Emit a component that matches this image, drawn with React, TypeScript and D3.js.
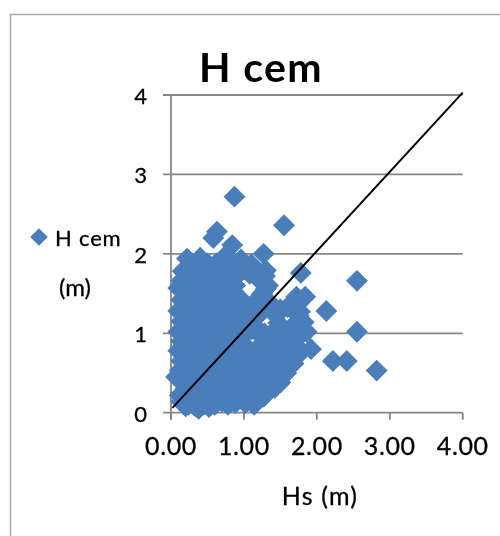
import React, { useEffect, useRef } from "react";
import * as d3 from "d3";

// Hs (m), H cem (m)
const hs = [
  0.87, 1.55, 0.63, 0.58, 0.84, 1.27,
  0.22, 0.4, 0.3, 0.5, 0.96, 1.1,
  0.16, 0.32, 0.48, 0.66, 0.78, 1.02, 1.16, 1.3,
  0.14, 0.26, 0.42, 0.56, 0.7, 0.9, 1.08, 1.24,
  0.1, 0.2, 0.34, 0.5, 0.64, 0.78, 0.88, 1.3, 1.29,
  0.14, 0.27, 0.42, 0.56, 0.7, 0.84, 1.05, 1.2, 1.78,
  0.1, 0.22, 0.36, 0.5, 0.64, 0.78, 0.92, 1.12, 1.25, 1.72, 1.84,
  0.14, 0.28, 0.42, 0.56, 0.7, 0.85, 1.0, 1.17, 1.44, 1.6, 1.77,
  0.1, 0.22, 0.36, 0.5, 0.64, 0.78, 0.92, 1.1, 1.22, 1.42, 1.66, 1.7,
  0.14, 0.28, 0.42, 0.56, 0.7, 0.85, 0.97, 1.2, 1.34, 1.48, 1.62, 1.78,
  0.1, 0.22, 0.36, 0.5, 0.64, 0.78, 0.92, 1.05, 1.22, 1.38, 1.54, 1.7, 1.86,
  0.14, 0.28, 0.42, 0.56, 0.7, 0.84, 0.98, 1.14, 1.3, 1.46, 1.6, 1.76,
  0.12, 0.24, 0.38, 0.52, 0.66, 0.8, 0.94, 1.06, 1.22, 1.38, 1.52, 1.68, 1.92,
  0.14, 0.28, 0.42, 0.56, 0.7, 0.84, 1.12, 1.28, 1.44, 1.58,
  0.07, 0.2, 0.34, 0.48, 0.62, 0.76, 0.9, 1.04, 1.2, 1.36, 1.5,
  0.12, 0.26, 0.4, 0.54, 0.68, 0.82, 0.96, 1.1, 1.26, 1.48,
  0.18, 0.32, 0.46, 0.6, 0.74, 0.88, 1.02, 1.16, 1.34, 1.42,
  0.2, 0.3, 0.38, 0.52, 0.64, 0.78, 1.01, 1.14, 1.27,
  2.55, 2.13, 2.55, 2.22, 2.41, 2.82,
  0.88, 1.2, 1.25, 1.33, 1.0, 1.14, 1.3, 1.05, 1.16, 1.32, 1.45,
  0.95, 1.08, 1.31, 1.47, 1.0, 1.12, 1.28, 1.42, 1.55, 1.06, 1.26,
  1.4, 1.56, 0.98, 1.12, 1.28, 1.44, 1.58, 0.9, 1.02, 1.14, 1.3,
  1.46, 0.98, 1.12, 1.3, 0.96, 1.14, 0.9, 1.04,
  1.36, 0.97, 1.5, 1.68, 1.82, 1.62, 1.72,
  0.14, 0.24, 0.34, 0.44, 0.56, 0.7,
  0.74, 0.62, 1.18, 1.75, 1.74,
];
const hcem = [
  2.72, 2.36, 2.28, 2.2, 2.11, 2.0,
  1.94, 1.95, 1.86, 1.88, 1.93, 1.87,
  1.78, 1.8, 1.79, 1.8, 1.86, 1.8, 1.78, 1.79,
  1.66, 1.68, 1.67, 1.66, 1.68, 1.72, 1.75, 1.7,
  1.57, 1.55, 1.54, 1.55, 1.53, 1.56, 1.6, 1.56, 1.72,
  1.42, 1.42, 1.41, 1.42, 1.41, 1.46, 1.34, 1.42, 1.76,
  1.28, 1.29, 1.3, 1.28, 1.3, 1.3, 1.32, 1.29, 1.32, 1.46, 1.46,
  1.15, 1.16, 1.15, 1.17, 1.16, 1.18, 1.2, 1.2, 1.22, 1.33, 1.27,
  1.02, 1.03, 1.04, 1.03, 1.02, 1.05, 1.07, 1.05, 1.02, 1.03, 0.99, 1.12,
  0.9, 0.91, 0.9, 0.92, 0.9, 0.93, 0.88, 1.0, 0.96, 0.94, 0.96, 0.98,
  0.78, 0.79, 0.78, 0.78, 0.8, 0.79, 0.76, 0.78, 0.82, 0.82, 0.82, 0.86, 1.02,
  0.65, 0.66, 0.66, 0.65, 0.66, 0.66, 0.62, 0.68, 0.7, 0.68, 0.7, 0.74,
  0.53, 0.54, 0.53, 0.53, 0.54, 0.54, 0.5, 0.56, 0.56, 0.56, 0.58, 0.62, 0.8,
  0.41, 0.41, 0.41, 0.42, 0.41, 0.42, 0.44, 0.44, 0.44, 0.5,
  0.45, 0.3, 0.3, 0.29, 0.3, 0.3, 0.32, 0.3, 0.34, 0.34, 0.38,
  0.22, 0.18, 0.18, 0.18, 0.2, 0.19, 0.22, 0.2, 0.24, 0.41,
  0.11, 0.09, 0.11, 0.1, 0.15, 0.12, 0.12, 0.16, 0.28, 0.31,
  0.08, 0.14, 0.05, 0.07, 0.15, 0.1, 0.14, 0.1, 0.2,
  1.66, 1.28, 1.02, 0.65, 0.65, 0.53,
  1.5, 1.44, 1.5, 1.6, 1.36, 1.36, 1.42, 1.24, 1.22, 1.36, 1.28,
  1.12, 1.12, 0.97, 1.13, 0.98, 1.06, 1.0, 0.98, 1.0, 0.8, 0.88,
  0.86, 0.88, 0.72, 0.72, 0.74, 0.74, 0.76, 0.6, 0.6, 0.62, 0.62,
  0.62, 0.46, 0.5, 0.5, 0.36, 0.36, 0.22, 0.22,
  1.38, 1.42, 1.3, 1.36, 1.14, 0.84, 0.78,
  0.14, 0.1, 0.08, 0.1, 0.12, 0.14,
  1.97, 1.88, 1.7, 1.22, 1.05,
];
const lineHs = [0.02, 4.0];
const lineH = [0.06, 4.03];
const xTicks = [0, 1, 2, 3, 4];
const yTicks = [0, 1, 2, 3, 4];

const FONT = "Lato, 'Open Sans', sans-serif";
const BLUE = "#4a7ebb";
const GREY = "#868686";

export default function App() {
  const ref = useRef<SVGSVGElement | null>(null);

  useEffect(() => {
    const svg = d3.select(ref.current);
    svg.selectAll("*").remove();

    const x = d3.scaleLinear().domain([0, 4]).range([171, 462.7]);
    const y = d3.scaleLinear().domain([0, 4]).range([412.7, 95]);

    // outer frame, only top and left show
    svg
      .append("path")
      .attr("d", "M10.5,536V14.5H500")
      .attr("fill", "none")
      .attr("stroke", "#a6a6a6")
      .attr("stroke-width", 1.5);

    //gridlines and y ticks
    yTicks.forEach((t) => {
      svg
        .append("line")
        .attr("x1", 163)
        .attr("x2", x(4))
        .attr("y1", y(t))
        .attr("y2", y(t))
        .attr("stroke", GREY)
        .attr("stroke-width", 1.8);
      svg
        .append("text")
        .attr("x", 147)
        .attr("y", y(t) + 9)
        .attr("text-anchor", "end")
        .attr("font-size", 22)
        .attr("font-family", FONT)
        .attr("stroke", "#000")
        .attr("stroke-width", 0.3)
        .attr("fill", "#000")
        .text(t);
    });

    svg
      .append("line")
      .attr("x1", x(0))
      .attr("x2", x(0))
      .attr("y1", y(4))
      .attr("y2", y(0) + 7)
      .attr("stroke", GREY)
      .attr("stroke-width", 1.8);

    xTicks.forEach((t) => {
      svg
        .append("line")
        .attr("x1", x(t))
        .attr("x2", x(t))
        .attr("y1", y(0))
        .attr("y2", y(0) + 7)
        .attr("stroke", GREY)
        .attr("stroke-width", 1.8);
      svg
        .append("text")
        .attr("x", x(t))
        .attr("y", 455)
        .attr("text-anchor", "middle")
        .attr("font-size", 25)
        .attr("letter-spacing", 0.6)
        .attr("font-family", FONT)
        .attr("stroke", "#000")
        .attr("stroke-width", 0.3)
        .attr("fill", "#000")
        .text(t.toFixed(2));
    });

    const diamond = d3.symbol().type(d3.symbolSquare).size(240);

    svg
      .append("g")
      .selectAll("path")
      .data(hs.map((h, i) => [h, hcem[i]]))
      .join("path")
      .attr("d", diamond)
      .attr("transform", (d) => `translate(${x(d[0])},${y(d[1])}) rotate(45)`)
      .attr("fill", BLUE);

    const line = d3
      .line<number>()
      .x((d) => x(d))
      .y((_, i) => y(lineH[i]));
    svg
      .append("path")
      .attr("d", line(lineHs))
      .attr("fill", "none")
      .attr("stroke", "#000")
      .attr("stroke-width", 2);

    svg
      .append("text")
      .attr("x", 261)
      .attr("y", 82)
      .attr("text-anchor", "middle")
      .attr("font-size", 41)
      .attr("font-weight", 700)
      .attr("letter-spacing", 1.4)
      .attr("font-family", FONT)
      .attr("fill", "#000")
      .text("H cem");

    // legend
    svg
      .append("path")
      .attr("d", d3.symbol().type(d3.symbolSquare).size(155))
      .attr("transform", "translate(39,237) rotate(45)")
      .attr("fill", BLUE);
    svg
      .append("text")
      .attr("x", 55)
      .attr("y", 246)
      .attr("font-size", 22)
      .attr("letter-spacing", 0.8)
      .attr("font-family", FONT)
      .attr("stroke", "#000")
      .attr("stroke-width", 0.3)
      .attr("fill", "#000")
      .text("H cem");

    svg
      .append("text")
      .attr("x", 75)
      .attr("y", 296)
      .attr("text-anchor", "middle")
      .attr("font-size", 24)
      .attr("font-family", FONT)
      .attr("stroke", "#000")
      .attr("stroke-width", 0.3)
      .attr("fill", "#000")
      .text("(m)");

    svg
      .append("text")
      .attr("x", 320)
      .attr("y", 505)
      .attr("text-anchor", "middle")
      .attr("font-size", 25)
      .attr("letter-spacing", 1.2)
      .attr("font-family", FONT)
      .attr("stroke", "#000")
      .attr("stroke-width", 0.3)
      .attr("fill", "#000")
      .text("Hs (m)");
  }, []);

  return (
    <svg
      ref={ref}
      width={500}
      height={536}
      style={{ position: "fixed", left: 0, top: 0 }}
    />
  );
}
